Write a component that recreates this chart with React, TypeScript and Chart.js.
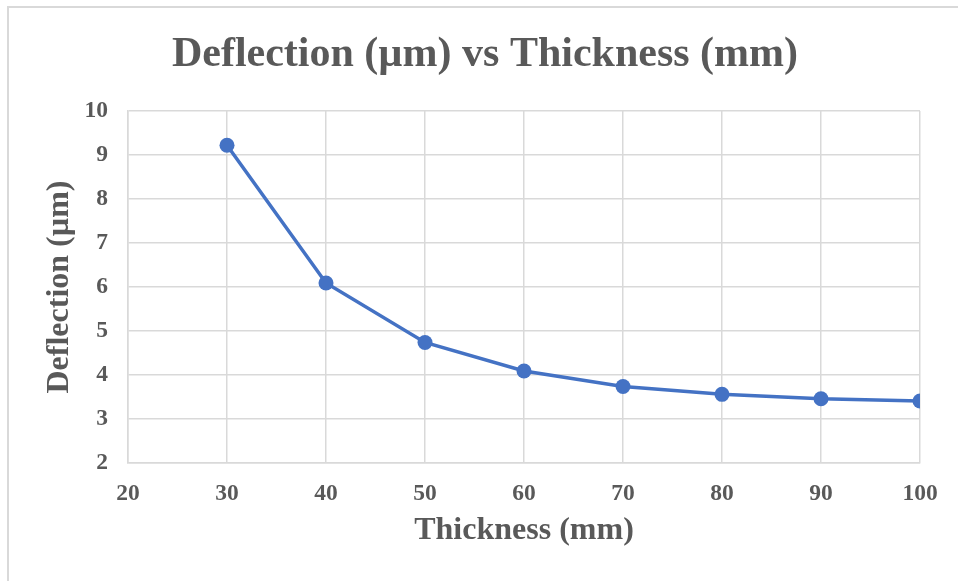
import React, { useEffect, useRef } from "react";
import { Chart, registerables } from "chart.js";

Chart.register(...registerables);

const thickness: number[] = [30, 40, 50, 60, 70, 80, 90, 100];
const deflection: number[] = [9.22, 6.09, 4.74, 4.09, 3.74, 3.56, 3.46, 3.41];
const xTickValues: number[] = [20, 30, 40, 50, 60, 70, 80, 90, 100];
const yTickValues: number[] = [2, 3, 4, 5, 6, 7, 8, 9, 10];

const chartTitle = "Deflection (µm) vs Thickness (mm)";
const xTitle = "Thickness (mm)";
const yTitle = "Deflection (µm)";

const TEXT = "#595959";
const GRID = "#d9d9d9";
const BLUE = "#4472C4";
const FONT = "'Liberation Serif', 'Times New Roman', serif";

export default function App() {
  const ref = useRef<HTMLCanvasElement | null>(null);

  useEffect(() => {
    document.body.style.margin = "0";
    const canvas = ref.current;
    if (!canvas) return;
    const chart = new Chart(canvas, {
      type: "scatter",
      data: {
        datasets: [
          {
            data: thickness.map((x, i) => ({ x, y: deflection[i] })),
            showLine: true,
            borderColor: BLUE,
            backgroundColor: BLUE,
            borderWidth: 3.5,
            pointRadius: 7.5,
            pointBorderWidth: 0,
            pointBackgroundColor: BLUE,
            tension: 0,
          },
        ],
      },
      options: {
        animation: false,
        responsive: false,
        maintainAspectRatio: false,
        layout: { padding: { left: 12, right: 0, top: 0, bottom: 0 } },
        plugins: {
          legend: { display: false },
          tooltip: { enabled: false },
          title: {
            display: true,
            text: chartTitle,
            color: TEXT,
            font: { family: FONT, size: 42, weight: "bold", lineHeight: 1.2 },
            padding: { top: 30, bottom: 30.6 },
          },
        },
        scales: {
          x: {
            type: "linear",
            min: 20,
            max: 100,
            afterBuildTicks: (scale: any) => {
              scale.ticks = xTickValues.map((v) => ({ value: v }));
            },
            afterFit: (scale: any) => {
              scale.height = 118;
              scale.paddingLeft = 0;
              scale.paddingRight = 38;
            },
            grid: { color: GRID, lineWidth: 1.5, drawTicks: false },
            border: { color: GRID, width: 1.5 },
            ticks: {
              color: TEXT,
              padding: 16.5,
              maxRotation: 0,
              autoSkip: false,
              font: { family: FONT, size: 23.5, weight: "bold" },
            },
            title: {
              display: true,
              text: xTitle,
              color: TEXT,
              font: { family: FONT, size: 32, weight: "bold", lineHeight: 1.2 },
              padding: { top: 0, bottom: 31.5 },
            },
          },
          y: {
            type: "linear",
            min: 2,
            max: 10,
            afterBuildTicks: (scale: any) => {
              scale.ticks = yTickValues.map((v) => ({ value: v }));
            },
            afterFit: (scale: any) => {
              scale.width = 116;
              scale.paddingTop = 0;
              scale.paddingBottom = 0;
            },
            grid: { color: GRID, lineWidth: 1.5, drawTicks: false },
            border: { color: GRID, width: 1.5 },
            ticks: {
              color: TEXT,
              padding: 20,
              autoSkip: false,
              font: { family: FONT, size: 23.5, weight: "bold" },
            },
            title: {
              display: true,
              text: yTitle,
              color: TEXT,
              font: { family: FONT, size: 32, weight: "bold", lineHeight: 1.2 },
              padding: { top: 29, bottom: 0 },
            },
          },
        },
      },
    });
    return () => chart.destroy();
  }, []);

  return (
    <div style={{ position: "relative", width: 958, height: 581, overflow: "hidden", background: "#fff" }}>
      <canvas ref={ref} width={958} height={581} style={{ position: "absolute", left: 0, top: 0, width: 958, height: 581 }} />
      <div
        style={{
          position: "absolute",
          left: 7,
          top: 6,
          width: 1000,
          height: 1000,
          border: "2px solid #d9d9d9",
          boxSizing: "border-box",
          pointerEvents: "none",
        }}
      />
    </div>
  );
}
